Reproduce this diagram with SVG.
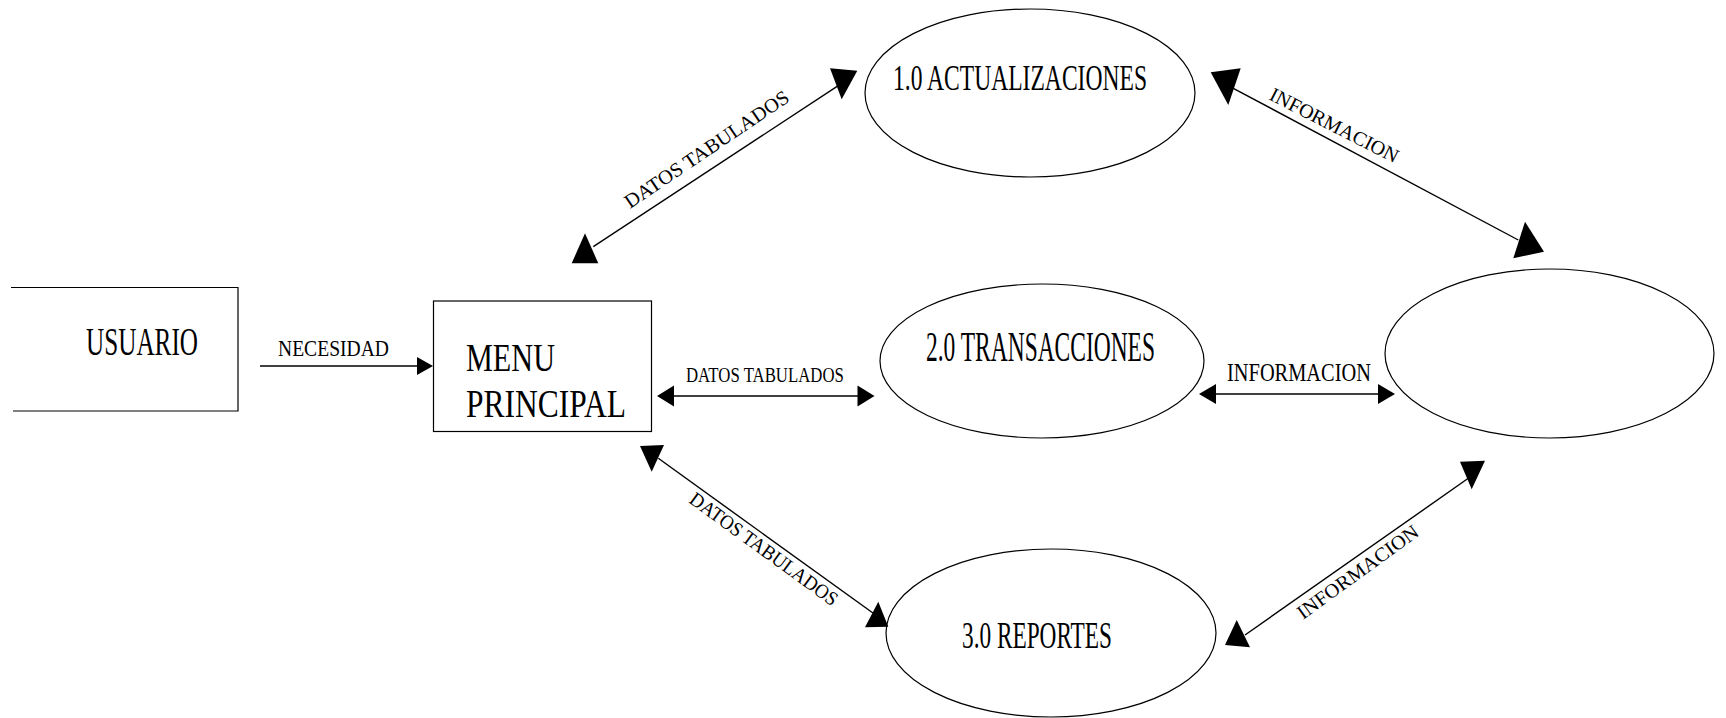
<svg xmlns="http://www.w3.org/2000/svg" width="1726" height="718" viewBox="0 0 1726 718">
<style>
  .lbl{font-family:"Liberation Serif","Times New Roman",serif;fill:#000}
  .shape{fill:none;stroke:#000;stroke-width:1.2}
  .ln{fill:none;stroke:#000;stroke-width:1.4}
  .ah{fill:#000;stroke:none}
</style>
<rect width="1726" height="718" fill="#fff"/>

<g id="usuario">
  <path class="shape" d="M11,287.5 H238 V411 H13"/>
  <text class="lbl" font-size="40" textLength="177.8" lengthAdjust="spacingAndGlyphs" transform="translate(86,355) scale(0.63,1)">USUARIO</text>
</g>

<g id="menu-principal">
  <rect class="shape" x="433.5" y="301" width="218" height="130.5"/>
  <text class="lbl" font-size="41" textLength="120.7" lengthAdjust="spacingAndGlyphs" transform="translate(466,371) scale(0.737,1)">MENU</text>
  <text class="lbl" font-size="41" textLength="211.8" lengthAdjust="spacingAndGlyphs" transform="translate(466,416.5) scale(0.755,1)">PRINCIPAL</text>
</g>

<g id="p1-actualizaciones">
  <ellipse class="shape" cx="1030" cy="93" rx="165" ry="84"/>
  <text class="lbl" font-size="35" textLength="379.1" lengthAdjust="spacingAndGlyphs" transform="translate(893,90) scale(0.67,1)">1.0 ACTUALIZACIONES</text>
</g>

<g id="p2-transacciones">
  <ellipse class="shape" cx="1042" cy="361" rx="162" ry="77"/>
  <text class="lbl" font-size="42" textLength="410.7" lengthAdjust="spacingAndGlyphs" transform="translate(926,361) scale(0.5576,1)">2.0 TRANSACCIONES</text>
</g>

<g id="p3-reportes">
  <ellipse class="shape" cx="1051" cy="633" rx="165" ry="84"/>
  <text class="lbl" font-size="38" textLength="247" lengthAdjust="spacingAndGlyphs" transform="translate(962,648) scale(0.607,1)">3.0 REPORTES</text>
</g>

<g id="deposito">
  <ellipse class="shape" cx="1549.5" cy="353.5" rx="164.5" ry="84.5"/>
</g>

<g id="connectors">
  <!-- NECESIDAD -->
  <line class="ln" x1="260" y1="366" x2="418" y2="366"/>
  <polygon class="ah" points="417,357 433,366 417,375"/>
  <text class="lbl" font-size="24" textLength="136" lengthAdjust="spacingAndGlyphs" transform="translate(278,356) scale(0.816,1)">NECESIDAD</text>

  <!-- DATOS TABULADOS horizontal -->
  <line class="ln" x1="670" y1="396" x2="862" y2="396"/>
  <polygon class="ah" points="657,396 674,385.5 674,406.5"/>
  <polygon class="ah" points="874.5,396 857.5,385.5 857.5,406.5"/>
  <text class="lbl" font-size="21" textLength="202.4" lengthAdjust="spacingAndGlyphs" transform="translate(686,382) scale(0.78,1)">DATOS TABULADOS</text>

  <!-- INFORMACION horizontal -->
  <line class="ln" x1="1212" y1="394" x2="1383" y2="394"/>
  <polygon class="ah" points="1199,394 1216,384 1216,404"/>
  <polygon class="ah" points="1395,394 1378,384 1378,404"/>
  <text class="lbl" font-size="26" textLength="183.4" lengthAdjust="spacingAndGlyphs" transform="translate(1227,380.5) scale(0.785,1)">INFORMACION</text>

  <!-- DATOS TABULADOS top-left diagonal -->
  <line class="ln" x1="841.7" y1="83.3" x2="593.3" y2="246.7"/>
  <polygon class="ah" points="830,68.3 857.3,70.7 841.7,99.3"/>
  <polygon class="ah" points="571.7,263.3 598.3,263.3 585,233.3"/>
  <text class="lbl" font-size="20" textLength="194" lengthAdjust="spacingAndGlyphs" transform="translate(630,209) rotate(-34)">DATOS TABULADOS</text>

  <!-- INFORMACION top-right diagonal -->
  <line class="ln" x1="1233.3" y1="88.3" x2="1518.3" y2="240"/>
  <polygon class="ah" points="1210.7,72.3 1240.7,68.3 1228.3,105"/>
  <polygon class="ah" points="1525,221.7 1544,251.7 1513.3,258.3"/>
  <text class="lbl" font-size="20" textLength="142" lengthAdjust="spacingAndGlyphs" transform="translate(1268,99) rotate(27)">INFORMACION</text>

  <!-- DATOS TABULADOS bottom-left diagonal -->
  <line class="ln" x1="658.3" y1="458.3" x2="873.3" y2="613.3"/>
  <polygon class="ah" points="640,446 664,445 651.7,471.7"/>
  <polygon class="ah" points="878.3,601.7 888.3,626.7 865,627.3"/>
  <text class="lbl" font-size="20" textLength="178" lengthAdjust="spacingAndGlyphs" transform="translate(688,502) rotate(36)">DATOS TABULADOS</text>

  <!-- INFORMACION bottom-right diagonal -->
  <line class="ln" x1="1468.3" y1="478.3" x2="1245" y2="635"/>
  <polygon class="ah" points="1460,461.7 1485,460.7 1471.7,489.3"/>
  <polygon class="ah" points="1236.7,620 1250,647.3 1225,645"/>
  <text class="lbl" font-size="20" textLength="145" lengthAdjust="spacingAndGlyphs" transform="translate(1303,620) rotate(-36)">INFORMACION</text>
</g>
</svg>
